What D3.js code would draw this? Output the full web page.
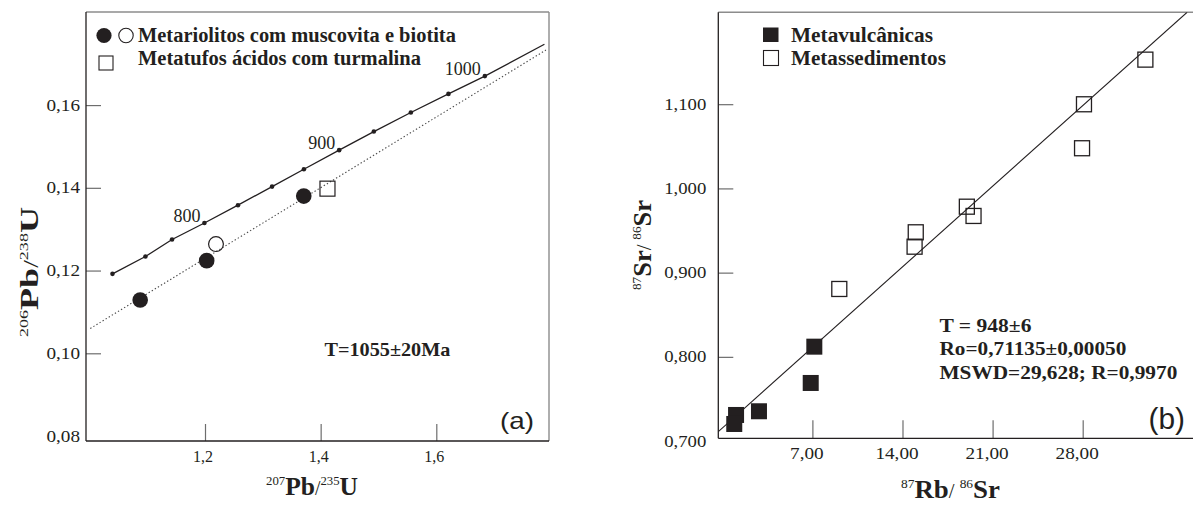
<!DOCTYPE html>
<html>
<head>
<meta charset="utf-8">
<script src="https://cdn.jsdelivr.net/npm/d3@7"></script>
<style>
  body { margin: 0; background: #fff; }
  svg { display: block; }
</style>
</head>
<body>
<svg id="chart" width="1193" height="505"></svg>
<script>
// ---------- Panel (a): U-Pb concordia diagram ----------
const concordiaAge = [725, 750, 775, 800, 825, 850, 875, 900, 925, 950, 975, 1000];
const concordiaX = [1.040, 1.097, 1.143, 1.199, 1.257, 1.316, 1.371, 1.432, 1.492, 1.556, 1.621, 1.684];
const concordiaY = [0.1192, 0.1234, 0.1275, 0.1315, 0.1358, 0.1403, 0.1445, 0.1491, 0.1536, 0.1582, 0.1627, 0.1670];
const concordiaEndX = 1.787, concordiaEndY = 0.1747;
const ageLabels = ["800", "900", "1000"];
const ageLabelAge = [800, 900, 1000];

const discordiaX = [1.0016, 1.7896];
const discordiaY = [0.1060, 0.1733];

const riolitoFilledX = [1.0879, 1.2029, 1.3708];
const riolitoFilledY = [0.1129, 0.1224, 0.1380];
const riolitoOpenX = [1.2190];
const riolitoOpenY = [0.1264];
const tufoX = [1.4118];
const tufoY = [0.1398];

const aTicksX = [1.2, 1.4, 1.6];
const aTicksY = [0.08, 0.10, 0.12, 0.14, 0.16];
const aLegend = ["Metariolitos com muscovita e biotita", "Metatufos ácidos com turmalina"];
const aAgeText = "T=1055±20Ma";

// ---------- Panel (b): Rb-Sr isochron ----------
const vulcX = [7.15, 6.87, 2.85, 1.07, 0.93];
const vulcY = [0.8121, 0.7690, 0.7354, 0.7310, 0.7203];
const sedX = [32.87, 28.10, 27.95, 19.00, 19.52, 15.03, 14.94, 9.09];
const sedY = [1.1529, 1.0999, 1.0477, 0.9783, 0.9673, 0.9479, 0.9308, 0.8806];
const isochronX = [-0.31, 36.11];
const isochronY = [0.7112, 1.2091];

const bTicksX = [7, 14, 21, 28];
const bTicksY = [0.7, 0.8, 0.9, 1.0, 1.1];
const bLegend = ["Metavulcânicas", "Metassedimentos"];
const bStats = ["T = 948±6", "Ro=0,71135±0,00050", "MSWD=29,628; R=0,9970"];

// ---------- drawing ----------
const SERIF = "'Liberation Serif', 'Times New Roman', serif";
const SANS = "'Liberation Sans', Arial, sans-serif";
const INK = "#231f20";
const FRAME2 = "#8c8c8c";

const svg = d3.select("#chart");

// Text made of styled runs; optionally fitted to a given width and rotated.
function richText(parent, parts, o) {
  const g = parent.append("g");
  const t = g.append("text").attr("font-family", o.family || SERIF).attr("fill", INK);
  let shift = 0;
  parts.forEach(p => {
    const s = t.append("tspan").text(p.t)
      .attr("font-size", p.size)
      .attr("font-weight", p.bold ? "bold" : "normal");
    const want = p.raise || 0;
    if (want !== shift) { s.attr("dy", shift - want); shift = want; }
  });
  const w = t.node().getComputedTextLength();
  const sx = o.width ? o.width / w : (o.sx || 1);
  const off = o.anchor === "end" ? -w : o.anchor === "middle" ? -w / 2 : 0;
  t.attr("x", off);
  g.attr("transform", `translate(${o.x},${o.y}) rotate(${o.rotate || 0}) scale(${sx},1)`);
  return g;
}

function frame(g, x0, x1, y0, y1, closeRight) {
  g.append("line").attr("x1", x0).attr("x2", x1).attr("y1", y0).attr("y2", y0)
    .attr("stroke", FRAME2).attr("stroke-width", 1.4);
  if (closeRight) {
    g.append("line").attr("x1", x1).attr("x2", x1).attr("y1", y0).attr("y2", y1)
      .attr("stroke", FRAME2).attr("stroke-width", 1.4);
  }
  g.append("line").attr("x1", x0).attr("x2", x1).attr("y1", y1).attr("y2", y1)
    .attr("stroke", INK).attr("stroke-width", 1.3);
  g.append("line").attr("x1", x0).attr("x2", x0).attr("y1", y0).attr("y2", y1)
    .attr("stroke", INK).attr("stroke-width", 1.3);
}

function styleAxis(axisG, hideValue, sx) {
  axisG.select(".domain").remove();
  axisG.selectAll(".tick line").attr("stroke", "#6d6d6d").attr("stroke-width", 1.2)
    .filter(d => Math.abs(d - hideValue) < 1e-9).remove();
  axisG.selectAll(".tick text")
    .attr("font-family", SERIF).attr("font-size", 16).attr("fill", INK);
  if (sx) {
    axisG.selectAll(".tick text").each(function () {
      const el = d3.select(this);
      const x = +el.attr("x") || 0;
      el.attr("x", x / sx).attr("transform", `scale(${sx},1)`);
    });
  }
}

const comma = f => v => d3.format(f)(v).replace(".", ",");

// ===== Panel (a) =====
const A = { l: 86, r: 549, t: 12, b: 441 };
const xA = d3.scaleLinear().domain([0.9942, 1.7949]).range([A.l, A.r]);
const yA = d3.scaleLinear().domain([0.0788, 0.1825]).range([A.b, A.t]);
const gA = svg.append("g");

gA.append("clipPath").attr("id", "clipA").append("rect")
  .attr("x", A.l).attr("y", A.t).attr("width", A.r - A.l).attr("height", A.b - A.t);

// axes
const axYA = gA.append("g").attr("transform", `translate(${A.l},0)`)
  .call(d3.axisLeft(yA).tickValues(aTicksY).tickSizeInner(-15).tickSizeOuter(0)
    .tickPadding(6).tickFormat(comma(".2f")));
styleAxis(axYA, 0.08, 1.2);
const axXA = gA.append("g").attr("transform", `translate(0,${A.b})`)
  .call(d3.axisBottom(xA).tickValues(aTicksX).tickSizeInner(-17).tickSizeOuter(0)
    .tickPadding(11).tickFormat(comma(".1f")));
styleAxis(axXA, null, 0);
axXA.selectAll(".tick text").attr("dx", -2.5).attr("dy", "0.6em");

frame(gA, A.l, A.r, A.t, A.b, true);

const plotA = gA.append("g").attr("clip-path", "url(#clipA)");
// discordia
plotA.append("line")
  .attr("x1", xA(discordiaX[0])).attr("y1", yA(discordiaY[0]))
  .attr("x2", xA(discordiaX[1])).attr("y2", yA(discordiaY[1]))
  .attr("stroke", "#4a4a4a").attr("stroke-width", 1.1).attr("stroke-dasharray", "1.4,2.2");
// concordia curve
const conc = concordiaX.map((x, i) => [x, concordiaY[i]]).concat([[concordiaEndX, concordiaEndY]]);
plotA.append("path").datum(conc)
  .attr("d", d3.line().x(d => xA(d[0])).y(d => yA(d[1])))
  .attr("fill", "none").attr("stroke", INK).attr("stroke-width", 1.3);
plotA.selectAll("circle.age").data(concordiaX).join("circle").attr("class", "age")
  .attr("cx", d => xA(d)).attr("cy", (d, i) => yA(concordiaY[i])).attr("r", 2.3).attr("fill", INK);

// age labels on the concordia
ageLabels.forEach((lab, k) => {
  const i = concordiaAge.indexOf(ageLabelAge[k]);
  richText(gA, [{ t: lab, size: 18 }], {
    x: xA(concordiaX[i]) - 4, y: yA(concordiaY[i]) - 1, anchor: "end", sx: 1
  });
});

// samples
plotA.selectAll("circle.fill").data(riolitoFilledX).join("circle").attr("class", "fill")
  .attr("cx", d => xA(d)).attr("cy", (d, i) => yA(riolitoFilledY[i])).attr("r", 7.8).attr("fill", INK);
plotA.selectAll("circle.open").data(riolitoOpenX).join("circle").attr("class", "open")
  .attr("cx", d => xA(d)).attr("cy", (d, i) => yA(riolitoOpenY[i])).attr("r", 7.4)
  .attr("fill", "none").attr("stroke", INK).attr("stroke-width", 1.2);
plotA.selectAll("rect.tufo").data(tufoX).join("rect").attr("class", "tufo")
  .attr("x", d => xA(d) - 7.5).attr("y", (d, i) => yA(tufoY[i]) - 7.5)
  .attr("width", 15).attr("height", 15)
  .attr("fill", "none").attr("stroke", INK).attr("stroke-width", 1.2);

// legend (a)
gA.append("circle").attr("cx", 104).attr("cy", 35.5).attr("r", 7.6).attr("fill", INK);
gA.append("circle").attr("cx", 126).attr("cy", 35.5).attr("r", 7.2)
  .attr("fill", "none").attr("stroke", INK).attr("stroke-width", 1.1);
gA.append("rect").attr("x", 99).attr("y", 56).attr("width", 14).attr("height", 14)
  .attr("fill", "none").attr("stroke", INK).attr("stroke-width", 1.1);
richText(gA, [{ t: aLegend[0], size: 20, bold: true }], { x: 138, y: 42, width: 318 });
richText(gA, [{ t: aLegend[1], size: 20, bold: true }], { x: 138, y: 64.5, width: 283 });

richText(gA, [{ t: aAgeText, size: 18, bold: true }], { x: 324.5, y: 356, width: 126 });
richText(gA, [{ t: "(a)", size: 23 }], { x: 500, y: 429, width: 34, family: SANS });

// axis titles (a)
richText(gA, [
  { t: "206", size: 13, raise: 10 }, { t: "Pb", size: 26, bold: true },
  { t: "/", size: 20 }, { t: "238", size: 13, raise: 10 }, { t: "U", size: 26, bold: true }
], { x: 38, y: 272, anchor: "middle", rotate: -90, width: 130 });
richText(gA, [
  { t: "207", size: 13, raise: 10 }, { t: "Pb", size: 26, bold: true },
  { t: "/", size: 20 }, { t: "235", size: 13, raise: 10 }, { t: "U", size: 26, bold: true }
], { x: 266, y: 495, width: 92 });

// ===== Panel (b) =====
const B = { l: 718.3, r: 1193, t: 12.3, b: 438.3 };
const xB = d3.scaleLinear().domain([-0.31, 36.57]).range([B.l, B.r]);
const yB = d3.scaleLinear().domain([0.7033, 1.2091]).range([B.b, B.t]);
const gB = svg.append("g");

gB.append("clipPath").attr("id", "clipB").append("rect")
  .attr("x", B.l).attr("y", B.t).attr("width", B.r - B.l).attr("height", B.b - B.t);

const axYB = gB.append("g").attr("transform", `translate(${B.l},0)`)
  .call(d3.axisLeft(yB).tickValues(bTicksY).tickSizeInner(-15).tickSizeOuter(0)
    .tickPadding(12).tickFormat(comma(".3f")));
styleAxis(axYB, 0.7, 1.17);
const axXB = gB.append("g").attr("transform", `translate(0,${B.b})`)
  .call(d3.axisBottom(xB).tickValues(bTicksX).tickSizeInner(-18).tickSizeOuter(0)
    .tickPadding(11).tickFormat(comma(".2f")));
styleAxis(axXB, null, 1.2);
axXB.selectAll(".tick text").attr("dx", -5).attr("dy", "0.6em");

frame(gB, B.l, B.r, B.t, B.b, false);

const plotB = gB.append("g").attr("clip-path", "url(#clipB)");
plotB.append("line")
  .attr("x1", xB(isochronX[0])).attr("y1", yB(isochronY[0]))
  .attr("x2", xB(isochronX[1])).attr("y2", yB(isochronY[1]))
  .attr("stroke", INK).attr("stroke-width", 1.1);
plotB.selectAll("rect.vulc").data(vulcX).join("rect").attr("class", "vulc")
  .attr("x", d => xB(d) - 8).attr("y", (d, i) => yB(vulcY[i]) - 8)
  .attr("width", 16).attr("height", 16).attr("fill", INK);
plotB.selectAll("rect.sed").data(sedX).join("rect").attr("class", "sed")
  .attr("x", d => xB(d) - 7.5).attr("y", (d, i) => yB(sedY[i]) - 7.5)
  .attr("width", 15).attr("height", 15)
  .attr("fill", "none").attr("stroke", INK).attr("stroke-width", 1.3);

// legend (b)
gB.append("rect").attr("x", 763).attr("y", 27.5).attr("width", 15.5).attr("height", 14.5).attr("fill", INK);
gB.append("rect").attr("x", 763.5).attr("y", 50.5).attr("width", 15).attr("height", 15)
  .attr("fill", "none").attr("stroke", INK).attr("stroke-width", 1.1);
richText(gB, [{ t: bLegend[0], size: 20, bold: true }], { x: 791, y: 42, width: 142 });
richText(gB, [{ t: bLegend[1], size: 20, bold: true }], { x: 791, y: 64.5, width: 155 });

const statW = [92, 187, 238];
const statY = [331.5, 355, 379];
bStats.forEach((s, i) => richText(gB, [{ t: s, size: 19, bold: true }], { x: 939.5, y: statY[i], width: statW[i] }));

richText(gB, [{ t: "(b)", size: 30 }], { x: 1148.5, y: 428.5, width: 36.5, family: SANS });

richText(gB, [
  { t: "87", size: 13, raise: 10 }, { t: "Sr", size: 26, bold: true },
  { t: "/ ", size: 20 }, { t: "86", size: 13, raise: 10 }, { t: "Sr", size: 26, bold: true }
], { x: 651, y: 245, anchor: "middle", rotate: -90, width: 90 });
richText(gB, [
  { t: "87", size: 13, raise: 10 }, { t: "Rb", size: 26, bold: true },
  { t: "/ ", size: 20 }, { t: "86", size: 13, raise: 10 }, { t: "Sr", size: 26, bold: true }
], { x: 901, y: 498, width: 99 });
</script>
</body>
</html>
